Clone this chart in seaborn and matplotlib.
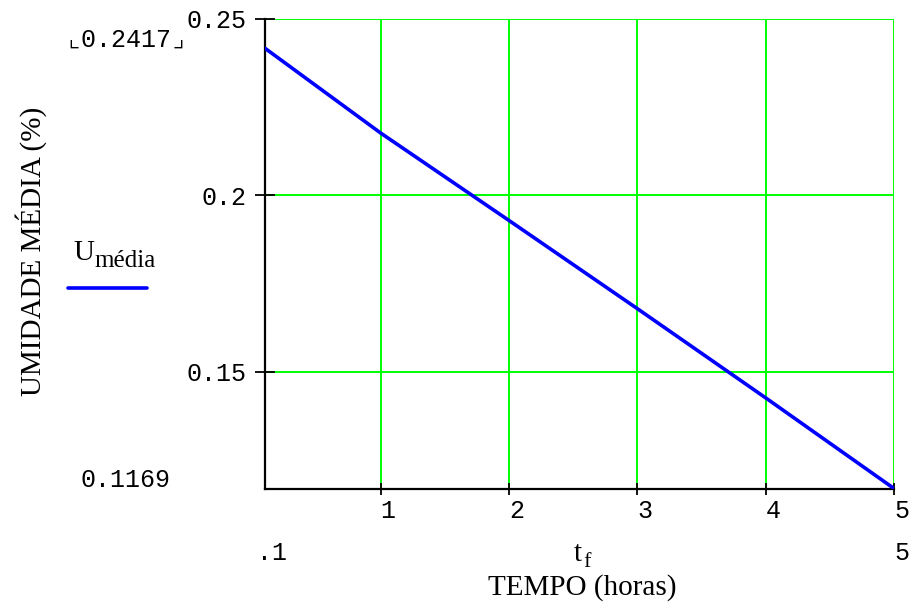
import matplotlib
matplotlib.use("Agg")
import matplotlib.pyplot as plt
from matplotlib.lines import Line2D
import seaborn as sns
import pandas as pd

# ---- data ----
tf = [0.1, 1.0, 2.0, 3.0, 4.0, 5.0]
u_media = [0.2417, 0.2177, 0.1929, 0.1679, 0.1426, 0.1169]
x_ticks = [1, 2, 3, 4, 5]
y_ticks = [0.15, 0.2, 0.25]
y_tick_labels = ["0.15", "0.2", "0.25"]
y_top = 0.25

sns.set_theme(style="white")
plt.rcParams["font.family"] = ["Liberation Serif", "DejaVu Serif"]

W, H = 912, 605
fig = plt.figure(figsize=(W / 100, H / 100), dpi=100)
L, R, T, B = 265, 894, 19, 488.5
ax = fig.add_axes([L / W, 1 - B / H, (R - L) / W, (B - T) / H])


def px(x, y):
    return x / W, 1 - y / H


df = pd.DataFrame({"tf": tf, "u": u_media})
sns.lineplot(data=df, x="tf", y="u", color="#0000ff", linewidth=2.6, ax=ax, zorder=3)

ax.set_xlim(tf[0], tf[-1])
ax.set_ylim(u_media[-1], y_top)
mono = ["Liberation Mono", "DejaVu Sans Mono"]
ax.set_xticks(x_ticks)
ax.set_xticklabels([str(v) for v in x_ticks], fontfamily=mono, fontsize=18, ha="left")
ax.set_yticks(y_ticks)
ax.set_yticklabels(y_tick_labels, fontfamily=mono, fontsize=18)

ax.grid(True, color="#00ff00", linewidth=1.4)
for s in ["top", "right"]:
    ax.spines[s].set_visible(False)
for s in ["left", "bottom"]:
    ax.spines[s].set_color("black")
    ax.spines[s].set_linewidth(1.6)
ax.tick_params(axis="y", direction="inout", length=15, width=1.3, color="black",
               pad=5.5, left=True, labelcolor="black")
ax.tick_params(axis="x", direction="inout", length=9, width=1.3, color="black",
               pad=3, bottom=True, labelcolor="black")

ax.set_xlabel("")
ax.set_ylabel("UMIDADE MÉDIA (%)", fontsize=21, color="black")
ax.yaxis.set_label_coords((47 - L) / (R - L), (B - 251) / (B - T))

# range annotations
fig.text(*px(126, 40), "\u231e" + f"{u_media[0]:.4f}" + "\u231f", family=mono, fontsize=18,
         ha="center", va="center", color="black")
fig.text(*px(126, 480), f"{u_media[-1]:.4f}", family=mono, fontsize=18,
         ha="center", va="center", color="black")
fig.text(*px(272, 553), ".1", family=mono, fontsize=18, ha="center", va="center", color="black")
fig.text(*px(902, 553), f"{tf[-1]:g}", family=mono, fontsize=18, ha="center", va="center", color="black")

# x variable name + label
fig.text(*px(574, 561), "t", fontsize=21, ha="left", va="baseline", color="black")
fig.text(*px(583, 567), "f", fontsize=16, ha="left", va="baseline", color="black")
fig.text(*px(582, 588), "TEMPO (horas)", fontsize=21, ha="center", va="center", color="black")

# legend
fig.text(*px(73, 260), "U", fontsize=21, ha="left", va="baseline", color="black")
fig.text(*px(94, 267), "média", fontsize=18, ha="left", va="baseline", color="black")
fig.add_artist(Line2D([68 / W, 147 / W], [1 - 288 / H] * 2, color="#0000ff", linewidth=2.6))

fig.savefig("out.png", dpi=100, facecolor="white")
